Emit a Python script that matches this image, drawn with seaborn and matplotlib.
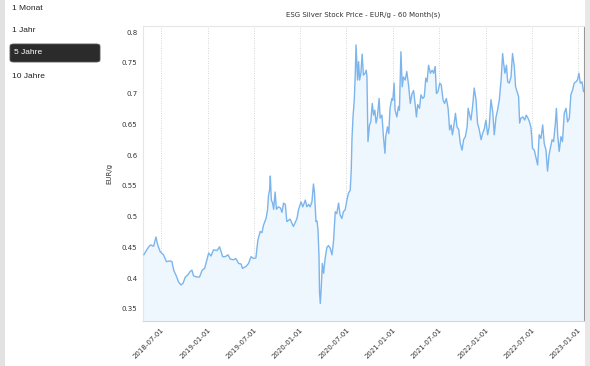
import matplotlib
matplotlib.use("Agg")
from matplotlib import pyplot as plt
from matplotlib.patches import FancyBboxPatch, Rectangle
import seaborn as sns
import pandas as pd

# price series (EUR per gram)
dates = [
    "2018-04-24", "2018-05-07", "2018-05-20", "2018-06-02", "2018-06-11", "2018-06-18",
    "2018-06-28", "2018-07-11", "2018-07-22", "2018-08-07", "2018-08-13", "2018-08-20",
    "2018-08-30", "2018-09-08", "2018-09-18", "2018-09-26", "2018-10-05", "2018-10-14",
    "2018-10-24", "2018-10-31", "2018-11-06", "2018-11-17", "2018-11-30", "2018-12-10",
    "2018-12-20", "2018-12-29", "2019-01-05", "2019-01-14", "2019-01-24", "2019-02-07",
    "2019-02-17", "2019-03-01", "2019-03-11", "2019-03-22", "2019-03-31", "2019-04-13",
    "2019-04-22", "2019-05-03", "2019-05-13", "2019-05-18", "2019-06-01", "2019-06-11",
    "2019-06-21", "2019-07-01", "2019-07-10", "2019-07-18", "2019-07-27", "2019-08-03",
    "2019-08-09", "2019-08-19", "2019-08-25", "2019-08-29", "2019-09-02", "2019-09-05",
    "2019-09-09", "2019-09-14", "2019-09-18", "2019-09-24", "2019-09-29", "2019-10-07",
    "2019-10-15", "2019-10-21", "2019-10-27", "2019-11-03", "2019-11-09", "2019-11-22",
    "2019-12-05", "2019-12-19", "2019-12-25", "2020-01-04", "2020-01-11", "2020-01-21",
    "2020-01-27", "2020-02-03", "2020-02-09", "2020-02-16", "2020-02-22", "2020-02-26",
    "2020-03-03", "2020-03-07", "2020-03-11", "2020-03-15", "2020-03-17", "2020-03-20",
    "2020-03-24", "2020-03-28", "2020-04-02", "2020-04-08", "2020-04-15", "2020-04-21",
    "2020-04-28", "2020-05-05", "2020-05-11", "2020-05-18", "2020-05-24", "2020-05-31",
    "2020-06-06", "2020-06-13", "2020-06-19", "2020-06-26", "2020-07-03", "2020-07-09",
    "2020-07-16", "2020-07-20", "2020-07-23", "2020-07-27", "2020-08-01", "2020-08-05",
    "2020-08-08", "2020-08-14", "2020-08-18", "2020-08-22", "2020-08-27", "2020-09-01",
    "2020-09-06", "2020-09-13", "2020-09-17", "2020-09-20", "2020-09-24", "2020-09-30",
    "2020-10-05", "2020-10-11", "2020-10-16", "2020-10-21", "2020-10-26", "2020-10-31",
    "2020-11-07", "2020-11-11", "2020-11-18", "2020-11-24", "2020-11-30", "2020-12-03",
    "2020-12-10", "2020-12-15", "2020-12-20", "2020-12-27", "2020-12-31", "2021-01-05",
    "2021-01-09", "2021-01-16", "2021-01-22", "2021-01-26", "2021-02-01", "2021-02-06",
    "2021-02-11", "2021-02-18", "2021-02-24", "2021-03-03", "2021-03-10", "2021-03-17",
    "2021-03-23", "2021-03-30", "2021-04-03", "2021-04-08", "2021-04-15", "2021-04-21",
    "2021-04-28", "2021-05-04", "2021-05-10", "2021-05-15", "2021-05-21", "2021-05-28",
    "2021-06-04", "2021-06-10", "2021-06-16", "2021-06-21", "2021-06-27", "2021-07-04",
    "2021-07-10", "2021-07-17", "2021-07-23", "2021-07-30", "2021-08-06", "2021-08-12",
    "2021-08-18", "2021-08-23", "2021-08-28", "2021-09-04", "2021-09-10", "2021-09-17",
    "2021-09-23", "2021-09-30", "2021-10-06", "2021-10-13", "2021-10-20", "2021-10-24",
    "2021-10-30", "2021-11-04", "2021-11-11", "2021-11-17", "2021-11-24", "2021-11-30",
    "2021-12-07", "2021-12-14", "2021-12-20", "2021-12-27", "2022-01-02", "2022-01-09",
    "2022-01-15", "2022-01-22", "2022-01-29", "2022-02-04", "2022-02-11", "2022-02-17",
    "2022-02-24", "2022-03-03", "2022-03-09", "2022-03-13", "2022-03-18", "2022-03-24",
    "2022-03-29", "2022-04-04", "2022-04-11", "2022-04-17", "2022-04-24", "2022-04-29",
    "2022-05-05", "2022-05-11", "2022-05-15", "2022-05-20", "2022-05-28", "2022-06-04",
    "2022-06-10", "2022-06-17", "2022-06-23", "2022-06-29", "2022-07-05", "2022-07-12",
    "2022-07-19", "2022-07-25", "2022-07-31", "2022-08-07", "2022-08-14", "2022-08-20",
    "2022-08-27", "2022-09-02", "2022-09-08", "2022-09-13", "2022-09-20", "2022-09-26",
    "2022-10-03", "2022-10-07", "2022-10-12", "2022-10-18", "2022-10-25", "2022-10-31",
    "2022-11-07", "2022-11-14", "2022-11-20", "2022-11-27", "2022-12-03", "2022-12-10",
    "2022-12-16", "2022-12-23", "2022-12-29", "2023-01-04", "2023-01-09", "2023-01-16",
    "2023-01-22",
]
prices = [
    0.438, 0.447, 0.454, 0.452, 0.467, 0.454,
    0.443, 0.438, 0.427, 0.428, 0.427, 0.413,
    0.404, 0.394, 0.389, 0.392, 0.402, 0.405,
    0.411, 0.413, 0.404, 0.402, 0.402, 0.413,
    0.416, 0.430, 0.441, 0.436, 0.446, 0.445,
    0.451, 0.435, 0.435, 0.438, 0.431, 0.430,
    0.432, 0.424, 0.423, 0.416, 0.419, 0.424,
    0.435, 0.432, 0.433, 0.462, 0.476, 0.474,
    0.486, 0.497, 0.511, 0.535, 0.543, 0.566,
    0.527, 0.522, 0.512, 0.540, 0.512, 0.516,
    0.514, 0.507, 0.522, 0.520, 0.492, 0.496,
    0.484, 0.497, 0.511, 0.524, 0.516, 0.527,
    0.516, 0.520, 0.516, 0.524, 0.553, 0.540,
    0.492, 0.493, 0.478, 0.435, 0.378, 0.359,
    0.386, 0.424, 0.408, 0.432, 0.450, 0.453,
    0.449, 0.438, 0.459, 0.508, 0.505, 0.522,
    0.503, 0.497, 0.508, 0.511, 0.527, 0.538,
    0.543, 0.575, 0.627, 0.662, 0.690, 0.733,
    0.779, 0.722, 0.752, 0.722, 0.733, 0.764,
    0.730, 0.733, 0.738, 0.728, 0.622, 0.649,
    0.654, 0.684, 0.665, 0.673, 0.652, 0.662,
    0.692, 0.660, 0.665, 0.630, 0.603, 0.630,
    0.646, 0.635, 0.676, 0.692, 0.689, 0.717,
    0.673, 0.662, 0.679, 0.673, 0.768, 0.711,
    0.727, 0.722, 0.736, 0.714, 0.684, 0.700,
    0.705, 0.679, 0.662, 0.682, 0.676, 0.698,
    0.692, 0.695, 0.725, 0.719, 0.746, 0.733,
    0.738, 0.733, 0.744, 0.700, 0.703, 0.717,
    0.714, 0.690, 0.684, 0.692, 0.676, 0.641,
    0.649, 0.633, 0.646, 0.668, 0.646, 0.641,
    0.619, 0.608, 0.625, 0.630, 0.646, 0.676,
    0.665, 0.657, 0.681, 0.709, 0.690, 0.652,
    0.641, 0.625, 0.635, 0.643, 0.657, 0.633,
    0.646, 0.690, 0.670, 0.633, 0.662, 0.673,
    0.690, 0.722, 0.765, 0.749, 0.733, 0.746,
    0.719, 0.717, 0.727, 0.765, 0.744, 0.711,
    0.703, 0.695, 0.652, 0.660, 0.662, 0.657,
    0.665, 0.660, 0.654, 0.644, 0.611, 0.608,
    0.595, 0.584, 0.633, 0.627, 0.649, 0.619,
    0.608, 0.574, 0.600, 0.611, 0.625, 0.622,
    0.652, 0.676, 0.633, 0.606, 0.630, 0.622,
    0.668, 0.676, 0.654, 0.660, 0.698, 0.706,
    0.717, 0.719, 0.722, 0.733, 0.717, 0.719,
    0.703,
]
y_ticks = [0.35, 0.4, 0.45, 0.5, 0.55, 0.6, 0.65, 0.7, 0.75, 0.8]
y_tick_labels = ["0.35", "0.4", "0.45", "0.5", "0.55", "0.6", "0.65", "0.7", "0.75", "0.8"]
x_ticks = ["2018-07-01", "2019-01-01", "2019-07-01", "2020-01-01", "2020-07-01",
           "2021-01-01", "2021-07-01", "2022-01-01", "2022-07-01", "2023-01-01"]
menu_items = ["1 Monat", "1 Jahr", "5 Jahre", "10 Jahre"]
selected_item = "5 Jahre"
title = "ESG Silver Stock Price - EUR/g - 60 Month(s)"

df = pd.DataFrame({"date": pd.to_datetime(dates), "price": prices})

sns.set_style("white")
plt.rcParams["font.family"] = ["DejaVu Sans"]

fig = plt.figure(figsize=(5.9, 3.66), dpi=100)
ax = fig.add_axes([0.2424, 0.123, 0.7475, 0.806])

line_color = "#7cb5ec"
ax.fill_between(df["date"], df["price"], 0, color="#eef6fe", linewidth=0, zorder=1)
sns.lineplot(x="date", y="price", data=df, ax=ax, color=line_color, linewidth=1.0, zorder=3)

ax.set_xlim(pd.Timestamp("2018-04-21"), pd.Timestamp("2023-01-24"))
ax.set_ylim(0.3305, 0.8098)

ax.set_yticks(y_ticks)
ax.set_yticklabels(y_tick_labels)
ax.set_xticks(pd.to_datetime(x_ticks))
ax.set_xticklabels(x_ticks, rotation=45, ha="right", rotation_mode="anchor")
ax.tick_params(axis="both", labelsize=5, colors="#333333", length=0, pad=4)
ax.tick_params(axis="x", pad=4)

# dotted vertical grid at each date tick
ax.grid(axis="x", linestyle=(0, (1, 2)), color="#c8c8c8", linewidth=0.6)
ax.grid(axis="y", visible=False)
ax.set_axisbelow(True)

for side in ["left", "top", "bottom"]:
    ax.spines[side].set_color("#e6e6e6")
    ax.spines[side].set_linewidth(0.8)
ax.spines["bottom"].set_color("#ccd6eb")
ax.spines["right"].set_color("#999999")
ax.spines["right"].set_linewidth(0.8)

ax.set_xlabel("")
ax.set_ylabel("EUR/g", fontsize=5, color="#333333", labelpad=7)
ax.set_title(title, fontsize=5, color="#333333", pad=7)

# page frame strips left and right
fig.patches.append(Rectangle((0, 0), 5 / 590, 1, transform=fig.transFigure,
                             facecolor="#e2e2e2", edgecolor="none"))
fig.patches.append(Rectangle((585 / 590, 0), 5 / 590, 1, transform=fig.transFigure,
                             facecolor="#e8e8e8", edgecolor="none"))

# range selector menu on the left
menu_y = [8, 31, 53, 76]
for label, yy in zip(menu_items, menu_y):
    yf = 1 - yy / 366
    if label == selected_item:
        fig.patches.append(FancyBboxPatch((10 / 590, 1 - 62 / 366), 90 / 590, 18 / 366,
                                          boxstyle="round,pad=0,rounding_size=0.006",
                                          transform=fig.transFigure,
                                          facecolor="#2b2b2b", edgecolor="#555555", linewidth=0.6))
        fig.text(14 / 590, yf, label, fontsize=6, color="white", va="center",
                 family=["Liberation Sans", "DejaVu Sans"])
    else:
        fig.text(12 / 590, yf, label, fontsize=6, color="#222222", va="center",
                 family=["Liberation Sans", "DejaVu Sans"])

plt.savefig("out.png", dpi=100)
